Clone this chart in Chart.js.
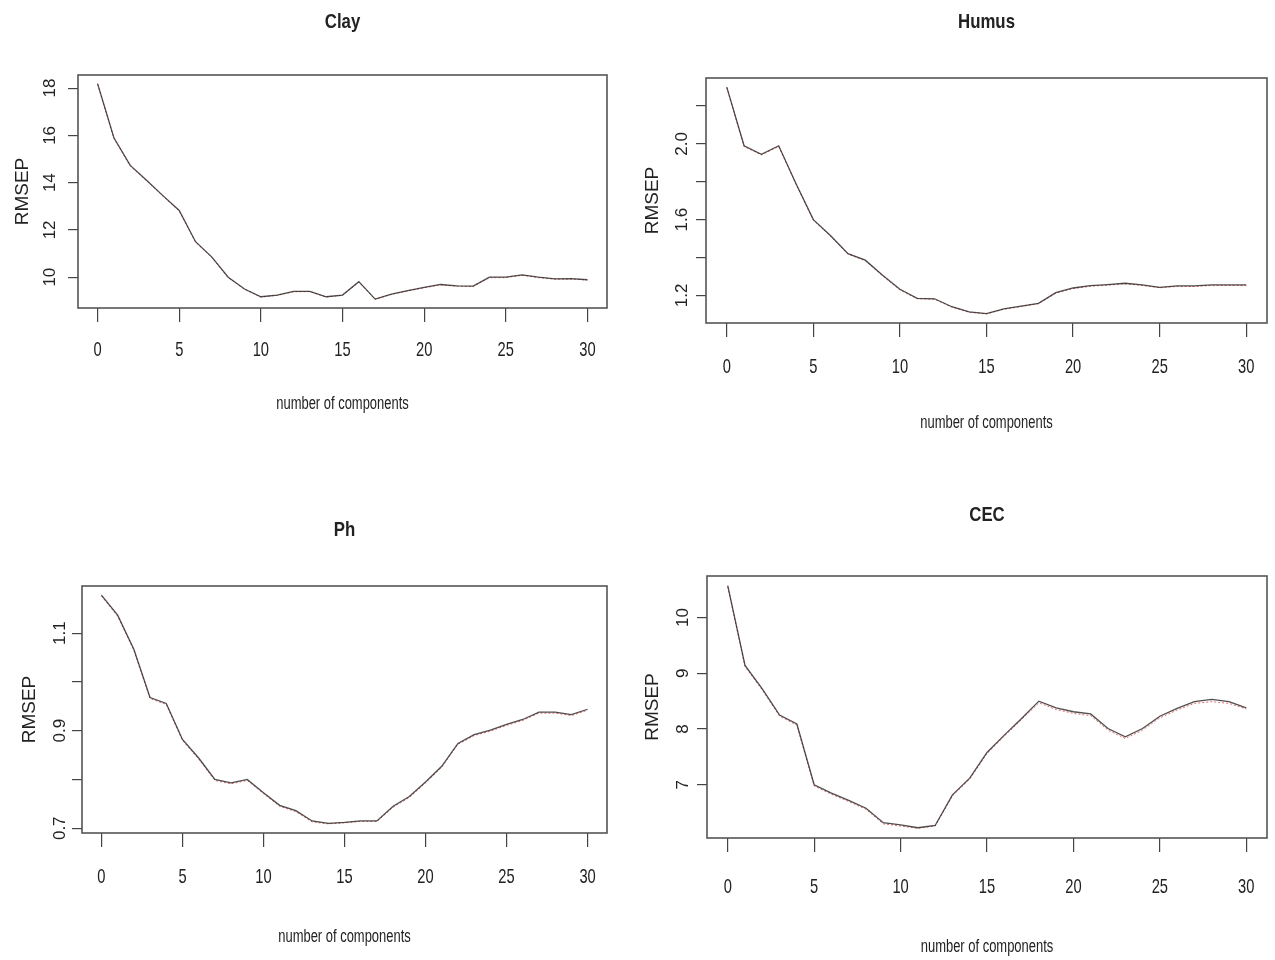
<!DOCTYPE html>
<html>
<head>
<meta charset="utf-8">
<script src="https://cdn.jsdelivr.net/npm/chart.js@4.4.0/dist/chart.umd.min.js"></script>
<style>
  body { margin: 0; background: #fff; }
  #wrap { position: relative; width: 1275px; height: 960px; background: #fff; }
  .panel { position: absolute; width: 637px; height: 480px; }
</style>
</head>
<body>
<div id="wrap">
  <div class="panel" style="left:0;top:0"><canvas id="clay" width="637" height="480"></canvas></div>
  <div class="panel" style="left:637px;top:0"><canvas id="humus" width="637" height="480"></canvas></div>
  <div class="panel" style="left:0;top:480px"><canvas id="ph" width="637" height="480"></canvas></div>
  <div class="panel" style="left:637px;top:480px"><canvas id="cec" width="637" height="480"></canvas></div>
</div>
<script>
// numero de componentes (eixo x)
const components = [0, 1, 2, 3, 4, 5, 6, 7, 8, 9, 10, 11, 12, 13, 14, 15, 16, 17, 18, 19, 20, 21, 22, 23, 24, 25, 26, 27, 28, 29, 30];
const xTickLabels = ['0', '5', '10', '15', '20', '25', '30'];
const xTitle = 'number of components';
const yTitle = 'RMSEP';

// RMSEP: CV (preto) e adjCV (vermelho pontilhado)
const clayCV    = [18.19, 15.90, 14.73, 14.10, 13.45, 12.82, 11.50, 10.85, 10.00, 9.50, 9.17, 9.24, 9.40, 9.40, 9.17, 9.24, 9.81, 9.07, 9.28, 9.43, 9.57, 9.69, 9.63, 9.62, 10.00, 10.00, 10.10, 10.00, 9.93, 9.94, 9.89];
const clayAdjCV = [18.17, 15.87, 14.70, 14.08, 13.43, 12.80, 11.48, 10.83, 9.98, 9.49, 9.16, 9.23, 9.38, 9.39, 9.16, 9.23, 9.79, 9.06, 9.27, 9.42, 9.55, 9.67, 9.62, 9.60, 9.98, 9.98, 10.08, 9.98, 9.92, 9.92, 9.88];
const clayYLabels = ['10', '12', '14', '16', '18'];

const humusCV    = [2.300, 1.990, 1.945, 1.990, 1.790, 1.600, 1.515, 1.420, 1.386, 1.306, 1.232, 1.184, 1.182, 1.140, 1.113, 1.104, 1.129, 1.143, 1.158, 1.214, 1.239, 1.251, 1.257, 1.264, 1.255, 1.242, 1.250, 1.250, 1.255, 1.255, 1.255];
const humusAdjCV = [2.297, 1.986, 1.942, 1.986, 1.787, 1.597, 1.512, 1.418, 1.383, 1.303, 1.229, 1.182, 1.180, 1.138, 1.111, 1.102, 1.127, 1.141, 1.156, 1.211, 1.236, 1.248, 1.254, 1.261, 1.252, 1.240, 1.247, 1.247, 1.252, 1.252, 1.252];
const humusYLabels = ['1.2', '1.6', '2.0'];

const phCV    = [1.178, 1.137, 1.067, 0.968, 0.956, 0.882, 0.844, 0.800, 0.793, 0.800, 0.773, 0.747, 0.736, 0.715, 0.710, 0.712, 0.715, 0.715, 0.745, 0.765, 0.795, 0.827, 0.874, 0.892, 0.901, 0.913, 0.923, 0.938, 0.938, 0.933, 0.944];
const phAdjCV = [1.176, 1.135, 1.065, 0.966, 0.954, 0.880, 0.842, 0.798, 0.791, 0.798, 0.771, 0.745, 0.734, 0.713, 0.709, 0.711, 0.714, 0.714, 0.743, 0.763, 0.793, 0.825, 0.872, 0.890, 0.899, 0.911, 0.921, 0.936, 0.936, 0.931, 0.942];
const phYLabels = ['0.7', '0.9', '1.1'];

const cecCV    = [10.57, 9.14, 8.72, 8.25, 8.09, 7.00, 6.85, 6.72, 6.58, 6.32, 6.28, 6.23, 6.27, 6.82, 7.12, 7.58, 7.89, 8.19, 8.50, 8.38, 8.31, 8.27, 8.01, 7.86, 8.01, 8.23, 8.37, 8.49, 8.53, 8.49, 8.38];
const cecAdjCV = [10.55, 9.12, 8.70, 8.23, 8.07, 6.98, 6.83, 6.70, 6.56, 6.30, 6.26, 6.22, 6.26, 6.80, 7.10, 7.56, 7.87, 8.17, 8.47, 8.35, 8.28, 8.24, 7.98, 7.83, 7.98, 8.20, 8.34, 8.46, 8.49, 8.46, 8.36];
const cecYLabels = ['7', '8', '9', '10'];

const SANS = '"Liberation Sans", Arial, sans-serif';

// caixa do grafico (estilo R)
const boxPlugin = {
    id: 'rBox',
    afterDraw(chart) {
        const { ctx, chartArea: a } = chart;
        ctx.save();
        ctx.strokeStyle = '#555';
        ctx.lineWidth = 1.6;
        ctx.strokeRect(a.left, a.top, a.right - a.left, a.bottom - a.top);
        ctx.restore();
    }
};

// textos: titulo, rotulos x e y (a figura original tem fonte estreita)
const textPlugin = {
    id: 'rText',
    afterDraw(chart, args, o) {
        const { ctx, chartArea: a, scales } = chart;
        const cx = (a.left + a.right) / 2;
        const squashed = (txt, px, py, font, sx, rot) => {
            ctx.save();
            ctx.translate(px, py);
            if (rot) ctx.rotate(rot);
            ctx.scale(sx, 1);
            ctx.font = font;
            ctx.fillText(txt, 0, 0);
            ctx.restore();
        };
        ctx.save();
        ctx.fillStyle = '#222';
        ctx.textAlign = 'center';
        ctx.textBaseline = 'middle';
        squashed(o.title, cx, o.titleY, 'bold 21px ' + SANS, 0.8);
        xTickLabels.forEach(t => {
            squashed(t, scales.x.getPixelForValue(parseFloat(t)), a.bottom + o.xLab, '21px ' + SANS, 0.7);
        });
        squashed(xTitle, cx, o.xTitleY, '18px ' + SANS, 0.72);
        (o.yLabels || []).forEach(t => {
            squashed(t, a.left - o.yGap, scales.y.getPixelForValue(parseFloat(t)), '17px ' + SANS, 1, -Math.PI / 2);
        });
        ctx.restore();
    }
};

function makePanel(id, name, cv, adj, yStep, yLabels, g) {
    const all = cv.concat(adj);
    const lo = Math.min(...all), hi = Math.max(...all);
    const ext = (hi - lo) * 0.04;

    new Chart(document.getElementById(id), {
        type: 'line',
        data: {
            datasets: [{
                label: 'CV',
                data: components.map((c, i) => ({ x: c, y: cv[i] })),
                borderColor: 'rgba(30,30,30,0.78)',
                borderWidth: 1.3,
                pointRadius: 0,
                tension: 0,
                fill: false
            }, {
                label: 'adjCV',
                data: components.map((c, i) => ({ x: c, y: adj[i] })),
                borderColor: 'rgba(215,45,45,0.7)',
                borderWidth: 1,
                borderDash: [2, 2],
                pointRadius: 0,
                tension: 0,
                fill: false
            }]
        },
        options: {
            responsive: false,
            animation: false,
            layout: { padding: { left: 0, right: g.right, top: g.top, bottom: 0 } },
            plugins: {
                legend: { display: false },
                tooltip: { enabled: false },
                title: { display: false },
                rText: { title: name, titleY: g.titleY, xLab: g.xLab, xTitleY: g.xTitleY, yLabels: yLabels, yGap: g.yGap }
            },
            scales: {
                x: {
                    type: 'linear',
                    min: -1.2,
                    max: 31.2,
                    afterFit: s => { s.height = g.xH; },
                    ticks: { display: false, stepSize: 5, includeBounds: false },
                    grid: { drawOnChartArea: false, drawTicks: true, tickLength: 14, color: '#444', lineWidth: 1.2 },
                    border: { display: false }
                },
                y: {
                    type: 'linear',
                    min: lo - ext,
                    max: hi + ext,
                    afterFit: s => { s.width = g.boxL; },
                    ticks: { display: false, stepSize: yStep, includeBounds: false },
                    grid: { drawOnChartArea: false, drawTicks: true, tickLength: 10, color: '#444', lineWidth: 1.2 },
                    border: { display: false },
                    title: {
                        display: true,
                        text: yTitle,
                        color: '#222',
                        font: { family: SANS, size: 19 },
                        padding: { top: g.ytTop, bottom: 0 }
                    }
                }
            }
        },
        plugins: [boxPlugin, textPlugin]
    });
}

makePanel('clay', 'Clay', clayCV, clayAdjCV, 2, clayYLabels,
    { boxL: 78, right: 30, top: 75, xH: 172, titleY: 22, xLab: 42, xTitleY: 404, ytTop: 11, yGap: 28 });
makePanel('humus', 'Humus', humusCV, humusAdjCV, 0.2, humusYLabels,
    { boxL: 69, right: 7, top: 78, xH: 157, titleY: 22, xLab: 44, xTitleY: 423, ytTop: 4, yGap: 24 });
makePanel('ph', 'Ph', phCV, phAdjCV, 0.1, phYLabels,
    { boxL: 82, right: 30, top: 106, xH: 127, titleY: 50, xLab: 44, xTitleY: 457, ytTop: 18, yGap: 22 });
makePanel('cec', 'CEC', cecCV, cecAdjCV, 1, cecYLabels,
    { boxL: 70, right: 7, top: 96, xH: 122, titleY: 35, xLab: 49, xTitleY: 467, ytTop: 4, yGap: 24 });
</script>
</body>
</html>
